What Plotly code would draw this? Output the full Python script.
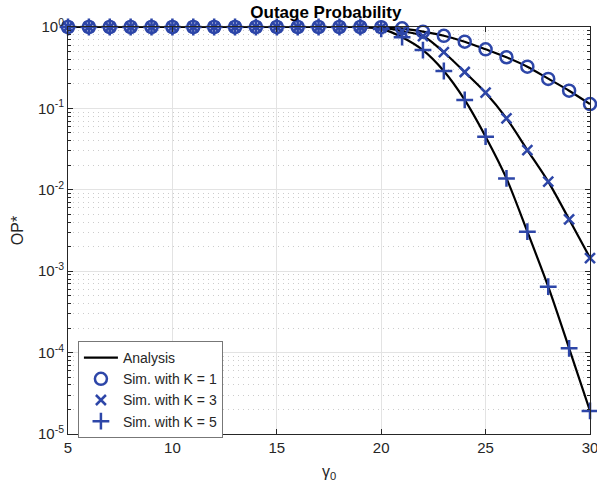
import plotly.graph_objects as go

# SNR threshold gamma_0 (dB)
gamma0 = list(range(5, 31))

# Analytical outage probability for K = 1, 3, 5
analysis_k1 = [1.0] * 15 + [0.995, 0.962, 0.876, 0.78, 0.66, 0.532, 0.425, 0.325, 0.232, 0.165, 0.113]
analysis_k3 = [1.0] * 15 + [0.985, 0.89, 0.775, 0.49, 0.28, 0.156, 0.0756, 0.0308, 0.0126, 0.00434, 0.00146]
analysis_k5 = [1.0] * 15 + [0.95, 0.75, 0.52, 0.288, 0.127, 0.0449, 0.0138, 0.00306, 0.000645, 0.000113, 1.92e-5]

# Simulated outage probability
sim_k1 = [1.0] * 15 + [0.995, 0.964, 0.875, 0.78, 0.66, 0.532, 0.425, 0.325, 0.23, 0.165, 0.113]
sim_k3 = [1.0] * 15 + [0.985, 0.89, 0.775, 0.49, 0.28, 0.156, 0.0756, 0.0308, 0.0126, 0.00434, 0.00145]
sim_k5 = [1.0] * 15 + [0.95, 0.75, 0.52, 0.288, 0.127, 0.0449, 0.0138, 0.00306, 0.000645, 0.000113, 1.92e-5]

y_tickvals = [1e-5, 1e-4, 1e-3, 1e-2, 1e-1, 1]
y_ticktext = ["10<sup>-5</sup>", "10<sup>-4</sup>", "10<sup>-3</sup>",
              "10<sup>-2</sup>", "10<sup>-1</sup>", "10<sup>0</sup>"]
x_tickvals = [5, 10, 15, 20, 25, 30]
# minor log ticks 2..9 within each decade
y_minorvals = [m * 10.0 ** e for e in range(-5, 0) for m in range(2, 10)]

BLUE = "#2D46A8"
FONT = "Liberation Sans, Arial, Helvetica, sans-serif"

fig = go.Figure()

for i, ys in enumerate([analysis_k1, analysis_k3, analysis_k5]):
    fig.add_trace(go.Scatter(
        x=gamma0, y=ys, mode="lines", cliponaxis=False,
        line=dict(color="black", width=2.2, shape="spline", smoothing=0.8),
        name="Analysis", showlegend=(i == 0), legendrank=1,
    ))

fig.add_trace(go.Scatter(
    x=gamma0, y=sim_k1, mode="markers", name="Sim. with K = 1", legendrank=2,
    cliponaxis=False,
    marker=dict(symbol="circle-open", size=12, color=BLUE, line=dict(width=2.5, color=BLUE)),
))
fig.add_trace(go.Scatter(
    x=gamma0, y=sim_k3, mode="markers", name="Sim. with K = 3", legendrank=3,
    cliponaxis=False,
    marker=dict(symbol="x-thin-open", size=10, color=BLUE, line=dict(width=2.5, color=BLUE)),
))
fig.add_trace(go.Scatter(
    x=gamma0, y=sim_k5, mode="markers", name="Sim. with K = 5", legendrank=4,
    cliponaxis=False,
    marker=dict(symbol="cross-thin-open", size=12, color=BLUE, line=dict(width=2.5, color=BLUE)),
))

fig.update_layout(
    width=597, height=494,
    margin=dict(l=68, r=7, t=27, b=60, autoexpand=False),
    paper_bgcolor="white", plot_bgcolor="white",
    font=dict(family=FONT, size=15, color="#262626"),
    title=dict(text="<b>Outage Probability</b>", x=0.494, xref="paper",
               xanchor="center",
               y=1 - 12 / 494, yref="container", yanchor="middle",
               font=dict(size=17, color="black")),
    legend=dict(x=0.019, y=0.2285, xanchor="left", yanchor="top",
                bgcolor="white", bordercolor="#777777", borderwidth=1,
                font=dict(size=14, color="#262626"),
                tracegroupgap=0, itemwidth=34),
    showlegend=True,
)

fig.update_xaxes(
    range=[5, 30], tickvals=x_tickvals, ticklabeloverflow="allow", automargin=False,
    showline=True, linecolor="#262626", linewidth=1, mirror="allticks",
    ticks="inside", ticklen=5, tickcolor="#262626",
    showgrid=True, gridcolor="#E3E3E3", gridwidth=1, zeroline=False,
    tickfont=dict(size=15),
    title=dict(text="γ<sub>0</sub>", standoff=10, font=dict(size=16)),
)
fig.update_yaxes(
    type="log", range=[-5, 0], tickvals=y_tickvals, ticktext=y_ticktext,
    ticklabeloverflow="allow", automargin=False,
    showline=True, linecolor="#262626", linewidth=1, mirror="allticks",
    ticks="inside", ticklen=5, tickcolor="#262626",
    showgrid=True, gridcolor="#E3E3E3", gridwidth=1, zeroline=False,
    tickfont=dict(size=15),
    minor=dict(tickmode="array", tickvals=y_minorvals,
               ticks="inside", ticklen=3, tickcolor="#262626",
               showgrid=True, gridcolor="#CCCCCC", griddash="1px,4px", gridwidth=1),
    title=dict(text="OP*", standoff=10, font=dict(size=16)),
)

fig.write_html("out.html")
